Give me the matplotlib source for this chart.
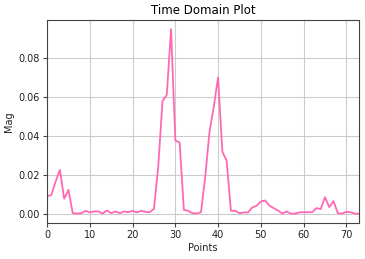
import matplotlib
matplotlib.use("Agg")
import matplotlib.pyplot as plt
import numpy as np

points = list(range(74))
mag = [0.0091, 0.0099, 0.0167, 0.0227, 0.0079, 0.0125, 0.0005, 0.0003, 0.0005, 0.0017,
       0.0009, 0.0014, 0.0014, 0.0003, 0.0019, 0.0005, 0.0014, 0.0005, 0.0014, 0.0010,
       0.0017, 0.0009, 0.0017, 0.0012, 0.0010, 0.0027, 0.0244, 0.0580, 0.0612, 0.0949,
       0.0378, 0.0368, 0.0022, 0.0017, 0.0005, 0.0003, 0.0010, 0.0193, 0.0424, 0.0552,
       0.0701, 0.0321, 0.0274, 0.0017, 0.0017, 0.0005, 0.0009, 0.0009, 0.0034, 0.0043,
       0.0065, 0.0070, 0.0044, 0.0031, 0.0019, 0.0003, 0.0014, 0.0003, 0.0003, 0.0009,
       0.0010, 0.0010, 0.0010, 0.0031, 0.0026, 0.0087, 0.0036, 0.0067, 0.0005, 0.0003,
       0.0012, 0.0010, 0.0003, 0.0002]

fig = plt.figure(figsize=(3.65, 2.59), dpi=100)
ax = fig.add_axes([0.129, 0.139, 0.855, 0.784])
ax.plot(points, mag, color="#ff69b4", linewidth=1.3)
ax.set_xlim(0, 73)
ax.grid(True, color="#cccccc", linewidth=0.8)
ax.set_title("Time Domain Plot", fontsize=8.5, pad=4)
ax.set_xlabel("Points", fontsize=7, labelpad=2, color="#222222")
ax.set_ylabel("Mag", fontsize=7, labelpad=3, color="#222222")
ax.tick_params(labelsize=7, length=3, pad=2, labelcolor="#222222", color="#444444")
for s in ax.spines.values():
    s.set_color("#444444")
fig.savefig("out.png", dpi=100)
